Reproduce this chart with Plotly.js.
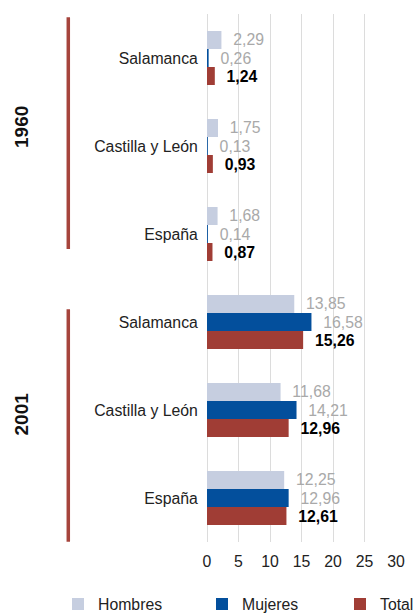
<!DOCTYPE html>
<html>
<head>
<meta charset="utf-8">
<script src="https://cdn.plot.ly/plotly-3.0.1.min.js"></script>
<style>html,body{margin:0;padding:0;background:#fff;}#chart{width:414px;height:616px;}</style>
</head>
<body>
<div id="chart"></div>
<script>
const years = ['1960', '2001'];
const regions = ['Salamanca', 'Castilla y León', 'España'];
const seriesNames = ['Hombres', 'Mujeres', 'Total'];
const hombres = [2.29, 1.75, 1.68, 13.85, 11.68, 12.25];
const mujeres = [0.26, 0.13, 0.14, 16.58, 14.21, 12.96];
const total = [1.24, 0.93, 0.87, 15.26, 12.96, 12.61];
const xTicks = [0, 5, 10, 15, 20, 25, 30];

const keys = years.flatMap(y => regions.map(r => y + ' ' + r));
const labels = years.flatMap(() => regions);
const fmt = v => '\u00a0\u00a0' + v.toFixed(2).replace('.', ',');

const FONT = 'Liberation Sans, Arial, sans-serif';
const FS = 15.8;
const colors = ['#c6cee0', '#034f9c', '#a03d35'];
const textStyles = [
  {family: FONT, size: FS, color: '#a9a9a9'},
  {family: FONT, size: FS, color: '#a9a9a9'},
  {family: FONT, size: FS, color: '#000', weight: 'bold'}
];
const legendIds = ['legend', 'legend2', 'legend3'];
const legendX = [58, 202, 340];

const data = [hombres, mujeres, total].map((vals, i) => ({
  type: 'bar',
  orientation: 'h',
  name: seriesNames[i],
  legend: legendIds[i],
  x: vals,
  y: keys,
  text: vals.map(fmt),
  textposition: 'outside',
  cliponaxis: false,
  constraintext: 'none',
  outsidetextfont: textStyles[i],
  marker: {color: colors[i]},
  hoverinfo: 'skip'
}));

const layout = {
  width: 414, height: 616,
  margin: {l: 207, r: 18, t: 14, b: 74},
  paper_bgcolor: '#fff', plot_bgcolor: '#fff',
  font: {family: FONT, size: FS, color: '#222'},
  barmode: 'group',
  bargap: 0.386,
  bargroupgap: 0,
  showlegend: true,
  xaxis: {
    range: [0, 30],
    tickvals: xTicks,
    showgrid: true, gridcolor: '#dcdcdc', gridwidth: 1,
    zeroline: true, zerolinecolor: '#dcdcdc', zerolinewidth: 1,
    showline: false,
    ticks: 'outside', ticklen: 5, tickcolor: 'rgba(0,0,0,0)',
    tickfont: {family: FONT, size: FS, color: '#222'},
    fixedrange: true
  },
  yaxis: {
    type: 'category',
    categoryorder: 'array',
    categoryarray: keys,
    tickvals: keys,
    ticktext: labels,
    autorange: 'reversed',
    showgrid: false, zeroline: false, showline: false,
    ticks: 'outside', ticklen: 5, tickcolor: 'rgba(0,0,0,0)',
    tickfont: {family: FONT, size: FS, color: '#222'},
    fixedrange: true
  },
  shapes: [
    {type: 'line', xref: 'paper', yref: 'paper', x0: -0.7339, x1: -0.7339, y0: 0.9937, y1: 0.555,
     line: {color: '#a6443c', width: 3.5}},
    {type: 'line', xref: 'paper', yref: 'paper', x0: -0.7339, x1: -0.7339, y0: 0.4407, y1: 0.0006,
     line: {color: '#a6443c', width: 3.5}}
  ],
  annotations: years.map((yr, i) => ({
    text: '<b>' + yr + '</b>',
    xref: 'paper', yref: 'paper',
    x: -0.979, y: [0.786, 0.2434][i],
    xanchor: 'center', yanchor: 'middle',
    textangle: -90, showarrow: false,
    font: {family: FONT, size: 19, color: '#111'}
  }))
};
legendIds.forEach((id, i) => {
  layout[id] = {
    orientation: 'h',
    xref: 'container', yref: 'container',
    x: legendX[i] / 414, y: 0.019, xanchor: 'left', yanchor: 'middle',
    bgcolor: 'rgba(0,0,0,0)',
    font: {family: FONT, size: FS, color: '#222'}
  };
});

Plotly.newPlot('chart', data, layout, {displayModeBar: false, staticPlot: true});
</script>
</body>
</html>
